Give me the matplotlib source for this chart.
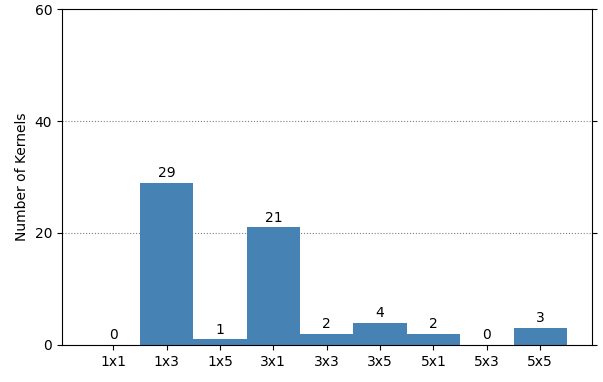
import numpy as np
import matplotlib
matplotlib.use("Agg")
import matplotlib.pyplot as plt

# kernel shapes and how many kernels use each
kernel_shapes = ['1x1', '1x3', '1x5', '3x1', '3x3', '3x5', '5x1', '5x3', '5x5']
kernel_counts = [0, 29, 1, 21, 2, 4, 2, 0, 3]

fig = plt.figure(figsize=(6.03, 3.82), dpi=100)
ax = fig.add_axes([0.1028, 0.0969, 0.8790, 0.8795])

x = np.arange(len(kernel_shapes))
bars = ax.bar(x, kernel_counts, width=1.0, color='steelblue', zorder=2)
ax.bar_label(bars, padding=2, fontsize=10)

ax.set_xticks(x)
ax.set_xticklabels(kernel_shapes)
ax.set_xlim(-0.96, 8.97)
ax.set_ylim(0, 60)
ax.set_yticks([0, 20, 40, 60])
ax.set_ylabel('Number of Kernels')
ax.tick_params(axis='y', right=True)
ax.grid(axis='y', linestyle=':', color='gray', zorder=0)

plt.savefig('out.png', dpi=100)
